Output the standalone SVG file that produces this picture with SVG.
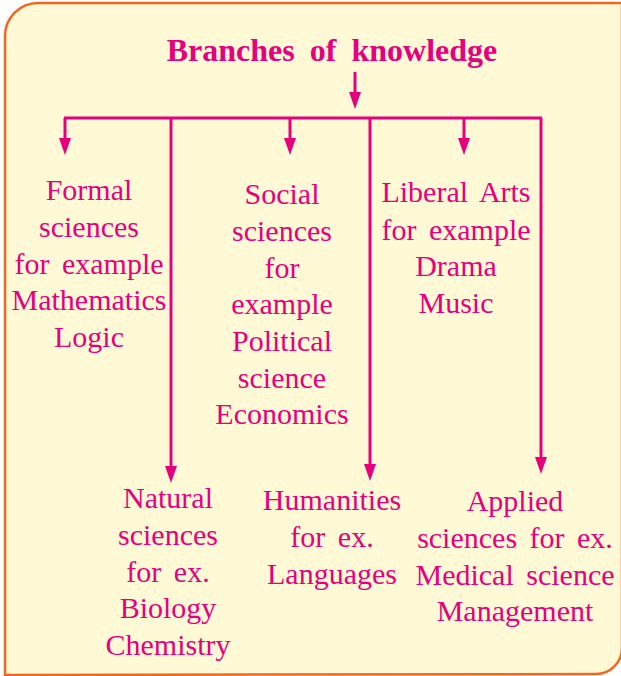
<svg xmlns="http://www.w3.org/2000/svg" width="621" height="676" viewBox="0 0 621 676">
<style>
.t{font-family:"Liberation Serif","Times New Roman",serif;font-size:30px;fill:#e5007e;text-anchor:middle;word-spacing:5px}
.h{font-family:"Liberation Serif","Times New Roman",serif;font-size:32px;font-weight:bold;fill:#e5007e;text-anchor:middle;word-spacing:7px}
.c{stroke:#e5007e;stroke-width:3;fill:none}
</style>
<path d="M5,675 V36 A33,33 0 0 1 38,3 H622 V648 A26,26 0 0 1 596,674 Z" fill="#fff9d6" stroke="#f26522" stroke-width="2.5"/>
<g id="title"><text class="h" x="332" y="61">Branches of knowledge</text></g>
<g id="connectors">
<line class="c" x1="355" y1="72" x2="355" y2="92"/>
<path d="M349,92 L361,92 L355,109 Z" fill="#e5007e"/>
<line class="c" x1="64" y1="118" x2="542" y2="118"/>
<line class="c" x1="65" y1="118" x2="65" y2="138"/>
<path d="M59,138 L71,138 L65,155 Z" fill="#e5007e"/>
<line class="c" x1="290" y1="118" x2="290" y2="138"/>
<path d="M284,138 L296,138 L290,155 Z" fill="#e5007e"/>
<line class="c" x1="464" y1="118" x2="464" y2="138"/>
<path d="M458,138 L470,138 L464,155 Z" fill="#e5007e"/>
<line class="c" x1="171" y1="118" x2="171" y2="466"/>
<path d="M165,466 L177,466 L171,483 Z" fill="#e5007e"/>
<line class="c" x1="370" y1="118" x2="370" y2="464"/>
<path d="M364,464 L376,464 L370,481 Z" fill="#e5007e"/>
<line class="c" x1="541" y1="118" x2="541" y2="457"/>
<path d="M535,457 L547,457 L541,474 Z" fill="#e5007e"/>
</g>
<g id="formal">
<text class="t" x="89" y="200">Formal</text>
<text class="t" x="89" y="237">sciences</text>
<text class="t" x="89" y="274">for example</text>
<text class="t" x="89" y="310">Mathematics</text>
<text class="t" x="89" y="347">Logic</text>
</g>
<g id="social">
<text class="t" x="282" y="204">Social</text>
<text class="t" x="282" y="241">sciences</text>
<text class="t" x="282" y="278">for</text>
<text class="t" x="282" y="314">example</text>
<text class="t" x="282" y="351">Political</text>
<text class="t" x="282" y="388">science</text>
<text class="t" x="282" y="424">Economics</text>
</g>
<g id="liberal">
<text class="t" x="456" y="202">Liberal Arts</text>
<text class="t" x="456" y="240">for example</text>
<text class="t" x="456" y="276">Drama</text>
<text class="t" x="456" y="313">Music</text>
</g>
<g id="natural">
<text class="t" x="168" y="508">Natural</text>
<text class="t" x="168" y="545">sciences</text>
<text class="t" x="168" y="582">for ex.</text>
<text class="t" x="168" y="618">Biology</text>
<text class="t" x="168" y="655">Chemistry</text>
</g>
<g id="humanities">
<text class="t" x="332" y="510">Humanities</text>
<text class="t" x="332" y="547">for ex.</text>
<text class="t" x="332" y="584">Languages</text>
</g>
<g id="applied">
<text class="t" x="515" y="511">Applied</text>
<text class="t" x="515" y="548">sciences for ex.</text>
<text class="t" x="515" y="585">Medical science</text>
<text class="t" x="515" y="621">Management</text>
</g>
</svg>
